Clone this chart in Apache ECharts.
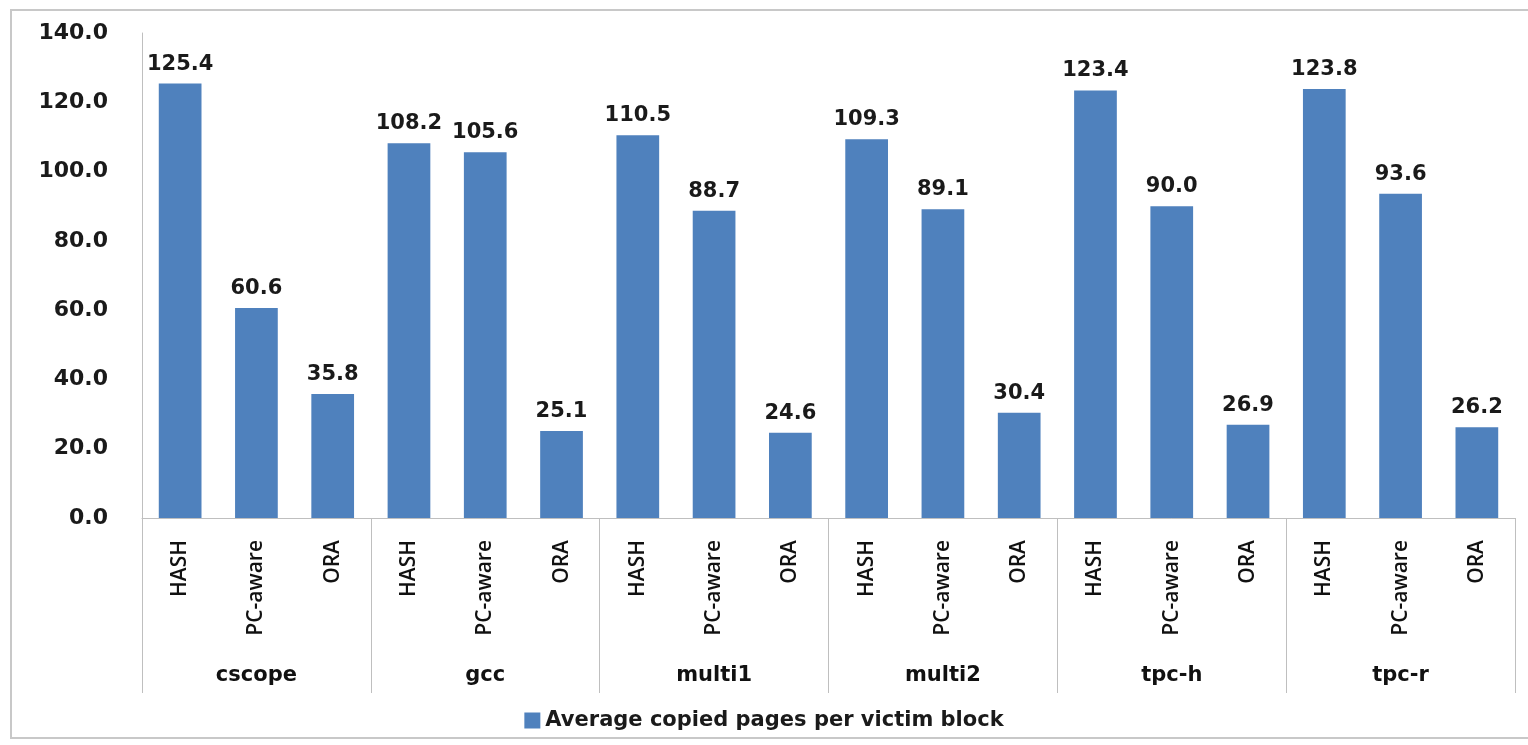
<!DOCTYPE html>
<html>
<head>
<meta charset="utf-8">
<script src="https://cdn.jsdelivr.net/npm/echarts@6/dist/echarts.min.js"></script>
<style>
  html, body { margin: 0; padding: 0; background: #fff; }
  #chart { width: 1528px; height: 745px; }
</style>
</head>
<body>
<div id="chart"></div>
<script>
// Workloads and page-placement methods
const groups = ['cscope', 'gcc', 'multi1', 'multi2', 'tpc-h', 'tpc-r'];
const methods = ['HASH', 'PC-aware', 'ORA'];

// Average copied pages per victim block, one value per workload
const hashValues = [125.4, 108.2, 110.5, 109.3, 123.4, 123.8];
const pcAwareValues = [60.6, 105.6, 88.7, 89.1, 90.0, 93.6];
const oraValues = [35.8, 25.1, 24.6, 30.4, 26.9, 26.2];

const yTicks = { min: 0, max: 140, interval: 20 };
const seriesName = 'Average copied pages per victim block';

// Flatten into one bar per (workload, method)
const perMethod = [hashValues, pcAwareValues, oraValues];
const barCategories = [];
const barValues = [];
groups.forEach((g, gi) => {
  methods.forEach((m, mi) => {
    barCategories.push(m);
    barValues.push(perMethod[mi][gi]);
  });
});

const wideFont = '"DejaVu Sans", sans-serif';
const methodFont = '"Open Sans", "Noto Sans", sans-serif';
const axisGray = '#bfbfbf';

const chart = echarts.init(document.getElementById('chart'), null, { renderer: 'canvas' });
chart.setOption({
  animation: false,
  backgroundColor: '#ffffff',
  graphic: [{
    type: 'rect',
    shape: { x: 11, y: 10, width: 1540, height: 728 },
    style: { fill: 'none', stroke: '#c8c8c8', lineWidth: 2 },
    silent: true
  }],
  grid: { left: 142, right: 13, top: 33, bottom: 227, containLabel: false },
  legend: {
    data: [seriesName],
    bottom: 9,
    left: 'center',
    itemWidth: 16,
    itemHeight: 16,
    itemGap: 8,
    icon: 'rect',
    textStyle: { fontFamily: wideFont, fontSize: 21, fontWeight: 'bold', color: '#1a1a1a' }
  },
  xAxis: [{
    type: 'category',
    data: barCategories,
    axisLine: { lineStyle: { color: axisGray, width: 1 } },
    axisTick: { show: false },
    axisLabel: {
      rotate: 90,
      margin: 22,
      interval: 0,
      fontFamily: methodFont,
      fontSize: 21,
      fontWeight: 600,
      color: '#111'
    }
  }, {
    type: 'category',
    data: groups,
    position: 'bottom',
    axisLine: { show: false },
    axisTick: { show: true, length: 175, lineStyle: { color: axisGray, width: 1 } },
    axisLabel: {
      margin: 147,
      interval: 0,
      fontFamily: wideFont,
      fontSize: 21,
      fontWeight: 'bold',
      color: '#111'
    },
    splitLine: { show: false }
  }],
  yAxis: {
    type: 'value',
    min: yTicks.min,
    max: yTicks.max,
    interval: yTicks.interval,
    axisLine: { show: true, lineStyle: { color: axisGray, width: 1 } },
    axisTick: { show: false },
    splitLine: { show: false },
    axisLabel: {
      margin: 34,
      formatter: v => v.toFixed(1),
      fontFamily: wideFont,
      fontSize: 22,
      fontWeight: 'bold',
      color: '#1a1a1a'
    }
  },
  series: [{
    name: seriesName,
    type: 'bar',
    xAxisIndex: 0,
    data: barValues,
    barWidth: '56%',
    itemStyle: { color: '#4F81BD' },
    label: {
      show: true,
      position: 'top',
      distance: 9,
      formatter: p => p.value.toFixed(1),
      fontFamily: wideFont,
      fontSize: 21,
      fontWeight: 'bold',
      color: '#1a1a1a'
    }
  }]
});
</script>
</body>
</html>
